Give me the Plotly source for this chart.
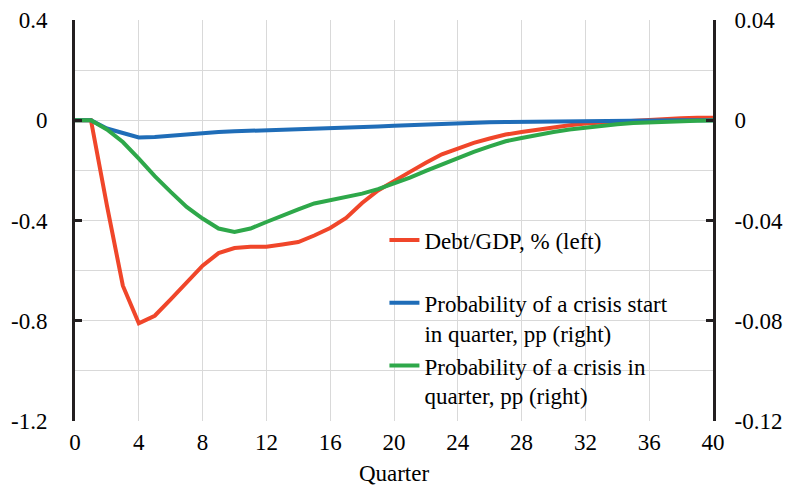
import plotly.graph_objects as go

quarters = list(range(0, 41))
debt_gdp = [0, 0, -0.34, -0.66, -0.81, -0.78, -0.715, -0.65, -0.58, -0.53,
            -0.51, -0.505, -0.505, -0.496, -0.486, -0.46, -0.43, -0.39, -0.33, -0.28,
            -0.245, -0.206, -0.17, -0.136, -0.113, -0.09, -0.073, -0.057, -0.047, -0.037,
            -0.027, -0.02, -0.013, -0.009, -0.006, -0.003, 0.0, 0.004, 0.008, 0.01, 0.01]
crisis_start = [0, 0, -0.0033, -0.0053, -0.0069, -0.0067, -0.0061, -0.0056, -0.0049, -0.0047,
                -0.0044, -0.0042, -0.0041, -0.0040, -0.0039, -0.0037, -0.0034, -0.0031, -0.0028, -0.0025,
                -0.0022, -0.0019, -0.0016, -0.0013, -0.0011, -0.0009, -0.0008, -0.0007, -0.0006, -0.0005,
                -0.0004, -0.0004, -0.0003, -0.0003, -0.0002, -0.0002, -0.0001, -0.0001, 0, 0, 0]
crisis_in = [0, 0, -0.0037, -0.0087, -0.0153, -0.0223, -0.0286, -0.0346, -0.0392, -0.0432,
             -0.0446, -0.0432, -0.0406, -0.0379, -0.0356, -0.0332, -0.0319, -0.0308, -0.0293, -0.0275,
             -0.0253, -0.0229, -0.0202, -0.0176, -0.0149, -0.0126, -0.0104, -0.0084, -0.0071, -0.0057,
             -0.0047, -0.0037, -0.0029, -0.0022, -0.0016, -0.0011, -0.0008, -0.0005, -0.0003, -0.0002, -0.0001]

left_ticks = [-1.2, -0.8, -0.4, 0, 0.4]
left_labels = ["-1.2", "-0.8", "-0.4", "0", "0.4"]
right_ticks = [-0.12, -0.08, -0.04, 0, 0.04]
right_labels = ["-0.12", "-0.08", "-0.04", "0", "0.04"]
x_ticks = list(range(0, 41, 4))

names = ["Debt/GDP, % (left)<br>\u00a0",
         "Probability of a crisis start<br>in quarter, pp (right)",
         "Probability of a crisis in<br>quarter, pp (right)"]
colors = ["#f0462a", "#1f6db8", "#2ea84a"]

FONT = "Liberation Serif"
FS = 23
tf = dict(family=FONT, size=FS, color="black")

fig = go.Figure()
fig.add_trace(go.Scatter(x=quarters, y=debt_gdp, name=names[0], mode="lines",
                         line=dict(color=colors[0], width=4), yaxis="y", legendgroup="a"))
fig.add_trace(go.Scatter(x=quarters, y=crisis_start, name=names[1], mode="lines",
                         line=dict(color=colors[1], width=4), yaxis="y2", legendgroup="b"))
fig.add_trace(go.Scatter(x=quarters, y=crisis_in, name=names[2], mode="lines",
                         line=dict(color=colors[2], width=4), yaxis="y2", legendgroup="c"))

# page body has an 8px margin, so the figure is smaller and margins shifted
fig.update_layout(
    template="none",
    width=783, height=478,
    margin=dict(l=67, r=78, t=12, b=65),
    paper_bgcolor="white", plot_bgcolor="white",
    font=tf,
    showlegend=True,
    legend=dict(x=0.485, y=0.505, xanchor="left", yanchor="top", bgcolor="rgba(0,0,0,0)",
                font=tf, valign="top", traceorder="grouped", tracegroupgap=0),
    xaxis=dict(range=[0, 40], tickvals=x_ticks, showgrid=True, gridcolor="#d9d9d9", gridwidth=1,
               zeroline=False, showline=False, ticks="", ticklabelstandoff=5, automargin=False,
               tickfont=tf, ticklabeloverflow="allow",
               title=dict(text="Quarter", standoff=28, font=tf)),
    xaxis2=dict(range=[0, 40], tickvals=x_ticks, overlaying="x", anchor="free", position=0.75,
                side="top", showline=True, linecolor="#231f20", linewidth=3, ticks="outside",
                ticklen=5, tickwidth=2, tickcolor="#231f20", showticklabels=False, showgrid=False,
                zeroline=False, layer="below traces", automargin=False),
    yaxis=dict(range=[-1.2, 0.4], tickvals=left_ticks, ticktext=left_labels, showgrid=True,
               gridcolor="#d9d9d9", tickfont=tf, ticklabeloverflow="allow",
               minor=dict(dtick=0.2, tick0=0, showgrid=True, gridcolor="#d9d9d9", gridwidth=1),
               zeroline=False, showline=True, linecolor="#231f20", linewidth=3,
               ticks="inside", ticklen=7, tickwidth=3, tickcolor="#231f20",
               ticklabelstandoff=20, automargin=False),
    yaxis2=dict(range=[-0.12, 0.04], tickvals=right_ticks, ticktext=right_labels, overlaying="y",
                side="right", showgrid=False, zeroline=False, showline=True, linecolor="#231f20",
                linewidth=3, ticks="inside", ticklen=7, tickwidth=3, tickcolor="#231f20",
                tickfont=tf, ticklabeloverflow="allow",
                ticklabelstandoff=14, automargin=False),
)

fig.write_html("out.html")
